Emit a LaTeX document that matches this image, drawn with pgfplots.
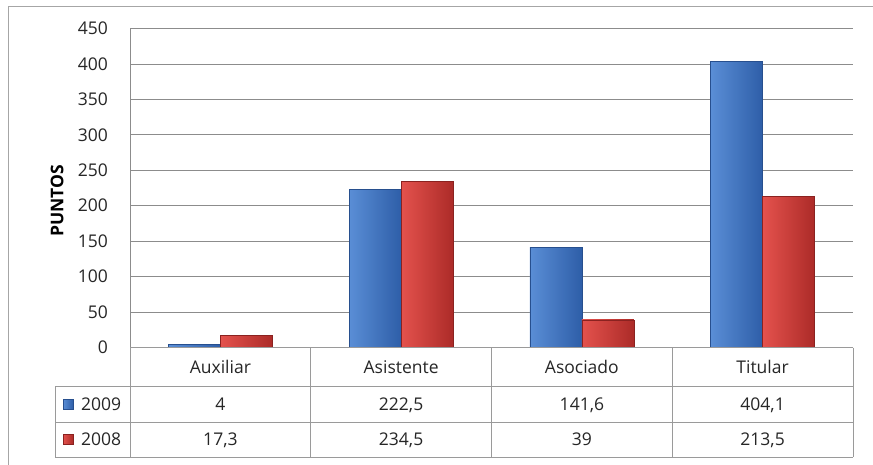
\documentclass[border=0pt]{standalone}
\usepackage{pgfplots}
\pgfplotsset{compat=1.18}
\usepackage{fontspec}
\setmainfont{Open Sans}
\definecolor{txt}{HTML}{262626}
\definecolor{gridc}{HTML}{8C8C8C}
\definecolor{tabc}{HTML}{9A9A9A}
\definecolor{bL}{HTML}{5A8ED6}
\definecolor{bM}{HTML}{3D72C2}
\definecolor{bR}{HTML}{2E5EA8}
\definecolor{bD}{HTML}{274F8E}
\definecolor{rL}{HTML}{E4524D}
\definecolor{rM}{HTML}{D03B36}
\definecolor{rR}{HTML}{AC2B28}
\definecolor{rD}{HTML}{8A2220}
\newcommand{\fs}{\fontsize{17.5}{20}\selectfont}
\pgfplotsset{
  bluebar/.style={ybar, bar width=52pt, bar shift=-26pt, draw=bD, line width=0.6pt,
    left color=bL, middle color=bM, right color=bR},
  redbar/.style={ybar, bar width=52pt, bar shift=26pt, draw=rD, line width=0.6pt,
    left color=rL, middle color=rM, right color=rR},
}
\begin{document}
\begin{tikzpicture}[x=1pt,y=1pt]
\useasboundingbox (0,0) rectangle (873,-465);
\fill[white] (0,0) rectangle (873,-465);
\draw[gray!70, line width=0.8pt] (8,-465) -- (8,-6) -- (873,-6);
\begin{axis}[
  at={(130pt,-347.5pt)}, anchor=south west,
  scale only axis, width=723pt, height=319pt,
  xmin=-0.5, xmax=3.5, ymin=0, ymax=450,
  xtick={0,1,2,3}, xticklabels={Auxiliar,Asistente,Asociado,Titular},
  ytick={0,50,...,450},
  /pgf/number format/assume math mode=true,
  ymajorgrids, grid style={gridc, line width=0.8pt},
  axis line style={draw=none},
  major tick length=0pt,
  ticklabel style={font=\fs, text=txt},
  xticklabel style={anchor=base, yshift=-26pt},
  yticklabel style={anchor=east, inner sep=0pt, xshift=-22pt},
  clip=false,
]
% 2009
\addplot[bluebar] coordinates {(0,4)};
\addplot[bluebar] coordinates {(1,222.5)};
\addplot[bluebar] coordinates {(2,141.6)};
\addplot[bluebar] coordinates {(3,404.1)};
% 2008
\addplot[redbar] coordinates {(0,17.3)};
\addplot[redbar] coordinates {(1,234.5)};
\addplot[redbar] coordinates {(2,39)};
\addplot[redbar] coordinates {(3,213.5)};
\end{axis}
% left axis line
\draw[gridc, line width=0.8pt] (130,-28.5) -- (130,-347.5);
% data table
\draw[tabc, line width=0.8pt] (130,-347.5) -- (853,-347.5);
\draw[tabc, line width=0.8pt] (55,-386) -- (853,-386);
\draw[tabc, line width=0.8pt] (55,-422) -- (853,-422);
\draw[tabc, line width=0.8pt] (55,-457) -- (853,-457);
\draw[tabc, line width=0.8pt] (55,-386) -- (55,-457);
\foreach \xx in {130,310.75,491.5,672.25,853} {
  \draw[tabc, line width=0.8pt] (\xx,-347.5) -- (\xx,-457);
}
% legend keys
\shade[left color=bL, middle color=bM, right color=bR, draw=bD, line width=0.5pt] (63,-399) rectangle (73,-409);
\shade[left color=rL, middle color=rM, right color=rR, draw=rD, line width=0.5pt] (63,-434) rectangle (73,-444);
\node[font=\fs, text=txt, anchor=base west, inner sep=0pt] at (81,-410.5) {2009};
\node[font=\fs, text=txt, anchor=base west, inner sep=0pt] at (81,-445.5) {2008};
% table values
\node[font=\fs, text=txt, anchor=base, inner sep=0pt] at (220.4,-410.5) {4};
\node[font=\fs, text=txt, anchor=base, inner sep=0pt] at (401.1,-410.5) {222,5};
\node[font=\fs, text=txt, anchor=base, inner sep=0pt] at (581.9,-410.5) {141,6};
\node[font=\fs, text=txt, anchor=base, inner sep=0pt] at (762.6,-410.5) {404,1};
\node[font=\fs, text=txt, anchor=base, inner sep=0pt] at (220.4,-445.5) {17,3};
\node[font=\fs, text=txt, anchor=base, inner sep=0pt] at (401.1,-445.5) {234,5};
\node[font=\fs, text=txt, anchor=base, inner sep=0pt] at (581.9,-445.5) {39};
\node[font=\fs, text=txt, anchor=base, inner sep=0pt] at (762.6,-445.5) {213,5};
% y label
\node[font=\fs\bfseries, text=black, rotate=90, inner sep=0pt] at (57,-201) {PUNTOS};
\end{tikzpicture}
\end{document}
